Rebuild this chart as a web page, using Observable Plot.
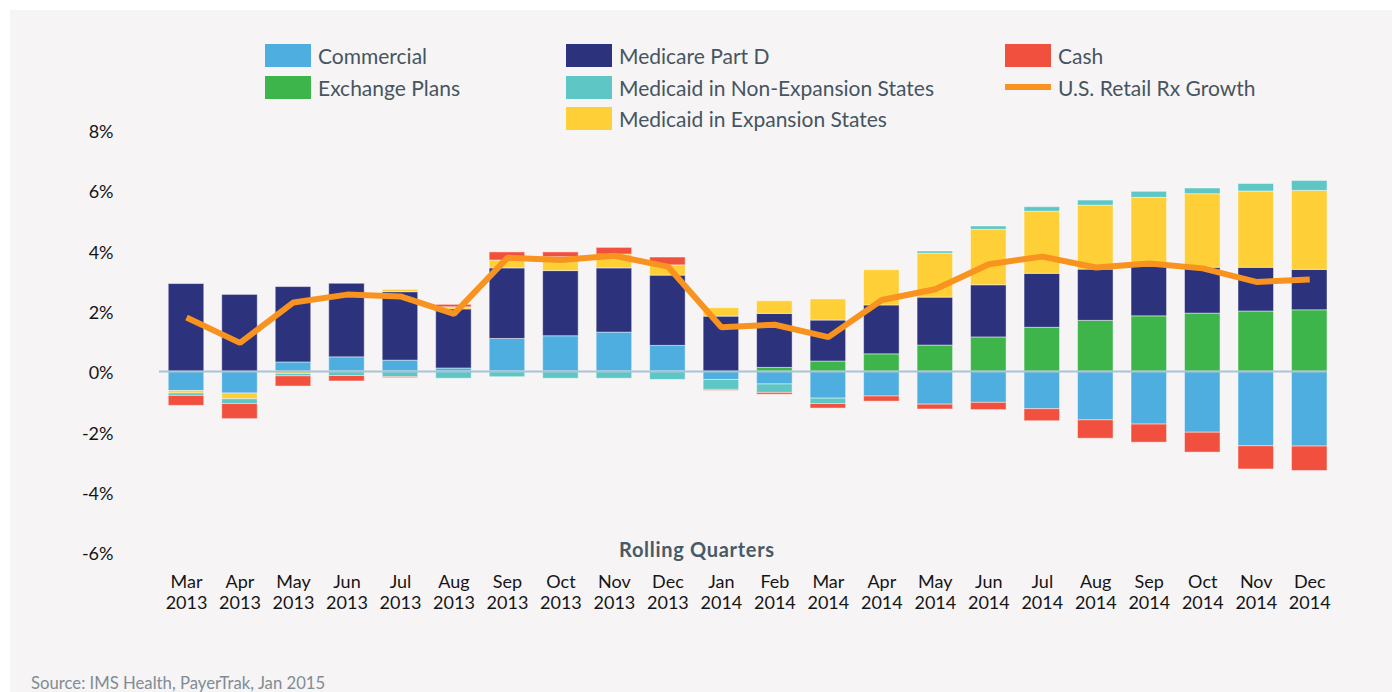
<!DOCTYPE html>
<html>
<head>
<meta charset="utf-8">
<script src="https://cdn.jsdelivr.net/npm/d3@7"></script>
<script src="https://cdn.jsdelivr.net/npm/@observablehq/plot@0.6"></script>
<style>
  html, body { margin: 0; padding: 0; background: #ffffff; }
  #wrap { position: relative; width: 1392px; height: 692px; overflow: hidden; font-family: Lato, "Noto Sans", sans-serif; }
  #bg { position: absolute; left: 10px; top: 10px; right: 0; bottom: 0; background: #f6f4f5; }
  #chart { position: absolute; left: 0; top: 0; }
  .lg { position: absolute; display: flex; align-items: center; font-size: 21px; color: #46555f; white-space: nowrap; }
  .sw { width: 46px; height: 23px; margin-right: 7px; flex: none; }
  .ln { width: 46px; height: 6px; margin-right: 7px; flex: none; }
  #xlabel { position: absolute; left: 619px; top: 537px; font-size: 20px; letter-spacing: 0.7px; font-weight: bold; color: #475a66; line-height: 24px; }
  #source { position: absolute; left: 31px; top: 673px; font-size: 16.7px; color: #7f8c94; line-height: 20px; }
</style>
</head>
<body>
<div id="wrap">
  <div id="bg"></div>
  <div id="chart"></div>
  <div id="legend"></div>
  <div id="xlabel">Rolling Quarters</div>
  <div id="source">Source: IMS Health, PayerTrak, Jan 2015</div>
</div>
<script>
const months = ["Mar 2013","Apr 2013","May 2013","Jun 2013","Jul 2013","Aug 2013","Sep 2013","Oct 2013","Nov 2013","Dec 2013",
  "Jan 2014","Feb 2014","Mar 2014","Apr 2014","May 2014","Jun 2014","Jul 2014","Aug 2014","Sep 2014","Oct 2014","Nov 2014","Dec 2014"];

const seriesNames = ["Commercial","Exchange Plans","Medicare Part D","Medicaid in Expansion States","Medicaid in Non-Expansion States","Cash"];
const seriesColors = ["#4eaee0","#3db54a","#2c327b","#fecf36","#5fc6c6","#f0503d"];
const lineName = "U.S. Retail Rx Growth";
const lineColor = "#f7931e";

const commercial     = [-0.65,-0.73, 0.30, 0.47, 0.36, 0.10, 1.08, 1.17, 1.29, 0.85,-0.28,-0.43,-0.90,-0.83,-1.10,-1.04,-1.25,-1.62,-1.76,-2.03,-2.48,-2.49];
const exchangePlans  = [ 0, 0, 0, 0, 0, 0, 0, 0, 0, 0, 0, 0.12, 0.33, 0.57, 0.86, 1.13, 1.45, 1.68, 1.83, 1.92, 1.99, 2.03];
const medicareD      = [ 2.90, 2.54, 2.50, 2.44, 2.27, 1.96, 2.34, 2.16, 2.13, 2.33, 1.82, 1.79, 1.36, 1.62, 1.59, 1.73, 1.79, 1.70, 1.65, 1.52, 1.45, 1.34];
const medicaidExp    = [-0.08,-0.19,-0.08, 0, 0.08, 0.07, 0.26, 0.46, 0.46, 0.34, 0.28, 0.42, 0.70, 1.17, 1.46, 1.84, 2.06, 2.12, 2.28, 2.44, 2.53, 2.62];
const medicaidNonExp = [-0.08,-0.16,-0.08,-0.15,-0.19,-0.24,-0.19,-0.24,-0.24,-0.28,-0.33,-0.28,-0.18, 0, 0.07, 0.11, 0.15, 0.17, 0.20, 0.19, 0.25, 0.33];
const cash           = [-0.33,-0.50,-0.34,-0.18,-0.03, 0.08, 0.27, 0.16, 0.22, 0.26,-0.03,-0.06,-0.15,-0.17,-0.16,-0.24,-0.40,-0.61,-0.60,-0.66,-0.77,-0.81];
const rxGrowth       = [ 1.79, 0.95, 2.29, 2.55, 2.49, 1.91, 3.77, 3.70, 3.84, 3.48, 1.47, 1.55, 1.14, 2.37, 2.73, 3.56, 3.81, 3.45, 3.58, 3.42, 2.97, 3.05];

const yTicks = [-6,-4,-2,0,2,4,6,8];

const seriesValues = [commercial, exchangePlans, medicareD, medicaidExp, medicaidNonExp, cash];
const barData = [];
seriesNames.forEach((s, si) => {
  months.forEach((m, mi) => {
    const v = seriesValues[si][mi];
    if (v !== 0) barData.push({month: m, series: s, value: v});
  });
});
const lineData = months.map((m, i) => ({month: m, value: rxGrowth[i]}));

const chart = Plot.plot({
  width: 1392,
  height: 692,
  marginLeft: 159,
  marginRight: 65,
  marginTop: 129.8,
  marginBottom: 140.1,
  style: {background: "transparent", fontFamily: "Lato, 'Noto Sans', sans-serif", fontSize: "18px", color: "#151515"},
  x: {domain: months, paddingInner: 0.336, paddingOuter: 0.0865, align: 1, round: false, label: null},
  y: {domain: [-6, 8], label: null},
  color: {domain: seriesNames, range: seriesColors},
  marks: [
    Plot.axisY({ticks: yTicks, tickSize: 0, tickPadding: 46, dy: 2, tickFormat: d => `${d}%`, fontSize: 18, label: null}),
    Plot.axisX({tickSize: 0, tickPadding: 21, tickFormat: d => d.replace(" ", "\n"), lineHeight: 1.17, fontSize: 18, label: null}),
    Plot.barY(barData, {x: "month", y: "value", fill: "series", order: seriesNames, stroke: "#ffffff", strokeOpacity: 0.45, strokeWidth: 1}),
    Plot.ruleY([0], {stroke: "#a9c4d6", strokeWidth: 2}),
    Plot.line(lineData, {x: "month", y: "value", stroke: lineColor, strokeWidth: 6, strokeLinejoin: "miter", strokeLinecap: "butt"})
  ]
});
document.getElementById("chart").appendChild(chart);

// legend
const legendItems = [
  {label: "Commercial", color: seriesColors[0], left: 265, top: 44, kind: "sw"},
  {label: "Exchange Plans", color: seriesColors[1], left: 265, top: 75.5, kind: "sw"},
  {label: "Medicare Part D", color: seriesColors[2], left: 566, top: 44, kind: "sw"},
  {label: "Medicaid in Non-Expansion States", color: seriesColors[4], left: 566, top: 75.5, kind: "sw"},
  {label: "Medicaid in Expansion States", color: seriesColors[3], left: 566, top: 107, kind: "sw"},
  {label: "Cash", color: seriesColors[5], left: 1005, top: 44, kind: "sw"},
  {label: lineName, color: lineColor, left: 1005, top: 75.5, kind: "ln"}
];
const lg = document.getElementById("legend");
legendItems.forEach(it => {
  const d = document.createElement("div");
  d.className = "lg";
  d.style.left = it.left + "px";
  d.style.top = it.top + "px";
  d.style.height = "23px";
  const s = document.createElement("div");
  s.className = it.kind;
  s.style.background = it.color;
  d.appendChild(s);
  const t = document.createElement("span");
  t.textContent = it.label;
  d.appendChild(t);
  lg.appendChild(d);
});
</script>
</body>
</html>
